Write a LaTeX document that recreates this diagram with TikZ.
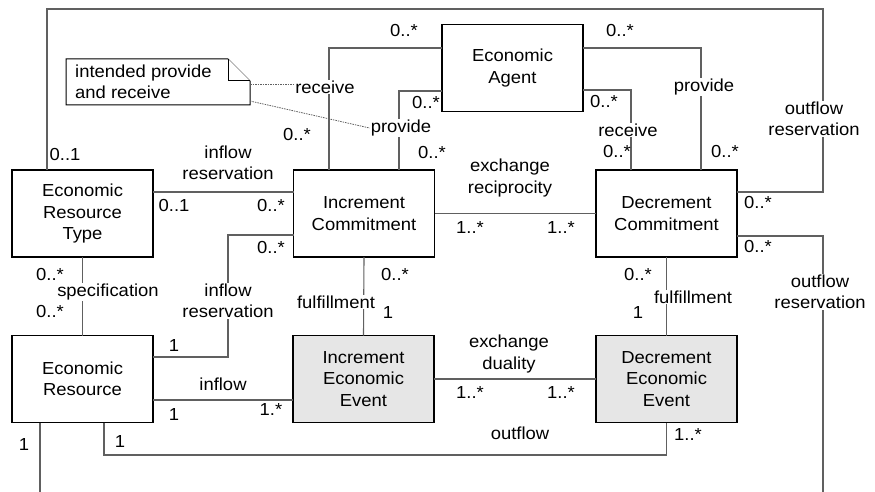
\documentclass[tikz,border=0pt]{standalone}
\usepackage{fontspec}
\setmainfont[FakeStretch=1.06]{Liberation Sans}
\usetikzlibrary{calc}
\definecolor{linegray}{HTML}{606060}
\definecolor{evtfill}{HTML}{E6E6E6}
\begin{document}
\begin{tikzpicture}[x=1pt,y=-1pt,
  font=\fontsize{17.4}{21.5}\selectfont,
  cls/.style={draw=black,line width=1.3pt,fill=white,minimum width=141pt,
    minimum height=87pt,inner sep=0pt,outer sep=0pt,align=center},
  evt/.style={cls,fill=evtfill},
  conn/.style={draw=linegray,line width=1.1pt},
  lbl/.style={fill=white,inner sep=1pt,align=center},
  mult/.style={inner sep=0pt},
  trace/.style={draw=linegray,line width=0.8pt,dash pattern=on 1.5pt off 1pt},
  notebox/.style={draw=black,line width=1pt,fill=white}]
\useasboundingbox (0,0) rectangle (875,492);

% classes
\node[cls] (agent) at (512.5,68) {Economic\\Agent};
\node[cls] (ert)   at (82.5,213.5) {Economic\\Resource\\Type};
\node[cls] (ic)    at (364,213.5) {Increment\\Commitment};
\node[cls] (dc)    at (666.5,213.5) {Decrement\\Commitment};
\node[cls] (er)    at (82.5,379) {Economic\\Resource};
\node[evt] (ie)    at (363.5,379) {Increment\\Economic\\Event};
\node[evt] (de)    at (666.5,379) {Decrement\\Economic\\Event};

% free ends running off the lower edge
\coordinate (erdown) at (40,492);
\coordinate (dcdown) at (823,492);

% associations
\draw[conn] (agent.west |- 0,48) -| (329,0 |- ic.north);
\draw[conn] (agent.west |- 0,91) -| (399,0 |- ic.north);
\draw[conn] (agent.east |- 0,90) -| (631,0 |- dc.north);
\draw[conn] (agent.east |- 0,48) -| (701,0 |- dc.north);
\draw[conn] (47,0 |- ert.north) |- (823,9) |- (dc.east |- 0,192);
\draw[conn] (ert.east |- 0,192) -- (ic.west |- 0,192);
\draw[conn] (ic.east) -- (dc.west);
\draw[conn] (ic.west |- 0,235) -| (228,357) -- (er.east |- 0,357);
\draw[conn] (ert.south) -- (er.north);
\draw[conn] (ic.south) -- (ie.north);
\draw[conn] (dc.south) -- (de.north);
\draw[conn] (er.east |- 0,400) -- (ie.west |- 0,400);
\draw[conn] (ie.east) -- (de.west);
\draw[conn] (104,0 |- er.south) |- (de.south |- 0,455) -- (de.south);
\draw[conn] (dc.east |- 0,236) -| (dcdown);
\draw[conn] (40,0 |- er.south) -- (erdown);

% association names
\node[lbl] (rcvL) at (325,87) {receive};
\node[lbl] (prvL) at (401,128) {provide};
\node[lbl] (rcvR) at (628,130) {receive};
\node[lbl] (prvR) at (704,87) {provide};
\node[lbl] (outres1) at (814,119) {outflow\\reservation};
\node[lbl] (inres1) at (228,163) {inflow\\reservation};
\node[lbl] (recip) at (510,178) {exchange\\reciprocity};
\node[lbl] (outres2) at (820,292) {outflow\\reservation};
\node[lbl] (spec) at (108,292) {specification};
\node[lbl] (inres2) at (228,301) {inflow\\reservation};
\node[lbl] (fulI) at (336,302) {fulfillment};
\node[lbl] (fulD) at (693,297) {fulfillment};
\node[lbl] (inflow) at (223,384) {inflow};
\node[lbl] (duality) at (509,354) {exchange\\duality};
\node[lbl] (outflow) at (520,433) {outflow};

% multiplicities
\node[mult] at (404,31) {0..*};
\node[mult] at (297,135) {0..*};
\node[mult] at (426,103) {0..*};
\node[mult] at (432,153) {0..*};
\node[mult] at (620,31) {0..*};
\node[mult] at (604,102) {0..*};
\node[mult] at (617,152) {0..*};
\node[mult] at (725,152) {0..*};
\node[mult] at (65,155) {0..1};
\node[mult] at (174,206) {0..1};
\node[mult] at (271,206) {0..*};
\node[mult] at (470,228) {1..*};
\node[mult] at (561,228) {1..*};
\node[mult] at (758,203) {0..*};
\node[mult] at (758,247) {0..*};
\node[mult] at (271,248) {0..*};
\node[mult] at (50,275) {0..*};
\node[mult] at (50,312) {0..*};
\node[mult] at (395,275) {0..*};
\node[mult] at (388,313) {1};
\node[mult] at (638,275) {0..*};
\node[mult] at (638,313) {1};
\node[mult] at (174,346) {1};
\node[mult] at (174,415) {1};
\node[mult] at (271,410) {1.*};
\node[mult] at (470,393) {1..*};
\node[mult] at (561,393) {1..*};
\node[mult] at (24,445) {1};
\node[mult] at (120,442) {1};
\node[mult] at (688,435) {1..*};

% comment note with folded corner
\draw[notebox] (66,59) -- (228,59) -- (250,81) -- (250,105) -- (66,105) -- cycle;
\draw[notebox] (228,59) -- (228,81) -- (250,81);
\node[anchor=west,align=left,inner sep=0pt] (note) at (75,82)
  {intended provide\\and receive};
\draw[trace] (250,84) -- (rcvL.west |- 0,84);
\draw[trace] (250,101) -- (prvL.west);
\end{tikzpicture}
\end{document}
